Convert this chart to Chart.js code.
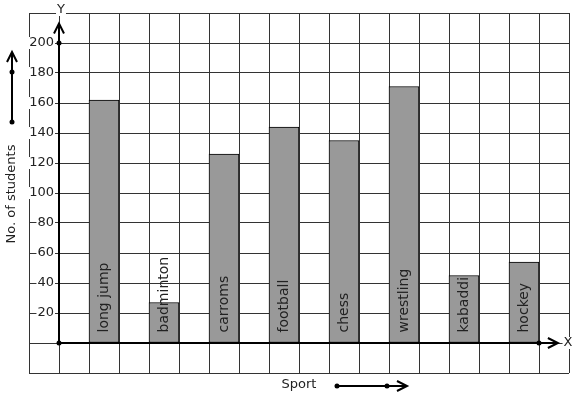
<!DOCTYPE html>
<html>
<head>
<meta charset="utf-8">
<script src="https://cdn.jsdelivr.net/npm/chart.js@4.4.1/dist/chart.umd.min.js"></script>
<style>
  body { margin: 0; background: #fff; }
  canvas { display: block; }
</style>
</head>
<body>
<canvas id="chart" width="577" height="399"></canvas>
<script>
// sports along the X axis, one bar each, every second grid column
const sports = ['long jump', 'badminton', 'carroms', 'football', 'chess', 'wrestling', 'kabaddi', 'hockey'];
const students = [162, 27, 126, 144, 135, 171, 45, 54];
const yTickLabels = [20, 40, 60, 80, 100, 120, 140, 160, 180, 200];

const FONT = '"DejaVu Sans", sans-serif';
const INK = '#222';

function arrowHead(ctx, tx, ty, dir)
{
    // open chevron, dir = 'up' or 'right'
    ctx.beginPath();
    if (dir === 'up') {
        ctx.moveTo(tx - 5, ty + 10);
        ctx.lineTo(tx, ty);
        ctx.lineTo(tx + 5, ty + 10);
    } else {
        ctx.moveTo(tx - 10, ty - 5);
        ctx.lineTo(tx, ty);
        ctx.lineTo(tx - 10, ty + 5);
    }
    ctx.stroke();
}

function dot(ctx, px, py)
{
    ctx.beginPath();
    ctx.arc(px, py, 2.5, 0, Math.PI * 2);
    ctx.fill();
}

function labelBox(ctx, text, px, py, align)
{
    const w = ctx.measureText(text).width;
    const left = align === 'right' ? px - w : (align === 'center' ? px - w / 2 : px);
    ctx.fillStyle = '#fff';
    ctx.fillRect(left - 1, py - 6, w + 2, 12);
    ctx.fillStyle = INK;
    ctx.textAlign = align;
    ctx.fillText(text, px, py);
}

const graphPaper = {
    id: 'graphPaper',
    afterDraw(chart)
    {
        const ctx = chart.ctx;
        const area = chart.chartArea;
        const x = chart.scales.x;
        const y = chart.scales.y;
        const x0 = x.getPixelForValue(0);
        const y0 = y.getPixelForValue(0);

        ctx.save();
        ctx.font = '13px ' + FONT;
        ctx.textBaseline = 'middle';

        // y tick labels sitting on the grid lines
        yTickLabels.forEach(v => labelBox(ctx, String(v), x0 - 5, y.getPixelForValue(v), 'right'));

        // labels inside the bars, reading upward
        ctx.font = '14px ' + FONT;
        const meta = chart.getDatasetMeta(0);
        meta.data.forEach((bar, i) => {
            ctx.save();
            ctx.translate(bar.x, bar.base - 10);
            ctx.rotate(-Math.PI / 2);
            ctx.fillStyle = INK;
            ctx.textAlign = 'left';
            ctx.fillText(sports[i], 0, 0);
            ctx.restore();
        });

        // axes
        ctx.strokeStyle = '#000';
        ctx.fillStyle = '#000';
        ctx.lineWidth = 2;
        const yTop = y.getPixelForValue(213);
        const xEnd = x.getPixelForValue(16.63);
        ctx.beginPath();
        ctx.moveTo(x0, y0);
        ctx.lineTo(x0, yTop);
        ctx.moveTo(x0, y0);
        ctx.lineTo(xEnd, y0);
        ctx.stroke();
        arrowHead(ctx, x0, yTop, 'up');
        arrowHead(ctx, xEnd, y0, 'right');
        dot(ctx, x0, y0);
        dot(ctx, x0, y.getPixelForValue(200));
        dot(ctx, x.getPixelForValue(16), y0);

        ctx.font = '13px ' + FONT;
        labelBox(ctx, 'Y', x0 + 2, area.top - 3, 'center');
        labelBox(ctx, 'X', area.right - 1, y0, 'center');

        // axis titles with direction arrows
        ctx.fillStyle = INK;
        ctx.save();
        ctx.translate(12, (area.top + area.bottom) / 2 + 1);
        ctx.rotate(-Math.PI / 2);
        ctx.textAlign = 'center';
        ctx.fillText('No. of students', 0, 0);
        ctx.restore();

        ctx.textAlign = 'center';
        ctx.fillText('Sport', (area.left + area.right) / 2, area.bottom + 12);

        ctx.strokeStyle = '#000';
        ctx.fillStyle = '#000';
        ctx.lineWidth = 2;
        ctx.beginPath();
        ctx.moveTo(12, 122);
        ctx.lineTo(12, 52);
        ctx.stroke();
        arrowHead(ctx, 12, 52, 'up');
        dot(ctx, 12, 122);
        dot(ctx, 12, 72);

        ctx.beginPath();
        ctx.moveTo(337, area.bottom + 13);
        ctx.lineTo(407, area.bottom + 13);
        ctx.stroke();
        arrowHead(ctx, 407, area.bottom + 13, 'right');
        dot(ctx, 337, area.bottom + 13);
        dot(ctx, 387, area.bottom + 13);

        ctx.restore();
    }
};

const ctx = document.getElementById('chart').getContext('2d');
const chart = new Chart(ctx, {
    type: 'bar',
    data: {
        datasets: [{
            data: students.map((v, i) => ({ x: 2 * i + 1.5, y: v })),
            backgroundColor: '#999999',
            borderColor: '#000',
            borderWidth: 1,
            borderSkipped: false,
            categoryPercentage: 1,
            barPercentage: 1
        }]
    },
    plugins: [graphPaper],
    options: {
        responsive: false,
        animation: false,
        devicePixelRatio: 1,
        layout: { padding: { left: 29, right: 8, top: 13, bottom: 26 } },
        plugins: {
            legend: { display: false },
            tooltip: { enabled: false }
        },
        scales: {
            x: {
                type: 'linear',
                min: -1,
                max: 17,
                offset: false,
                grid: { offset: false, color: '#333', lineWidth: 1, drawTicks: false },
                border: { display: false },
                ticks: { display: false, stepSize: 1 }
            },
            y: {
                min: -20,
                max: 220,
                grid: { color: '#333', lineWidth: 1, drawTicks: false },
                border: { display: false },
                ticks: { display: false, stepSize: 20 }
            }
        }
    }
});
</script>
</body>
</html>
